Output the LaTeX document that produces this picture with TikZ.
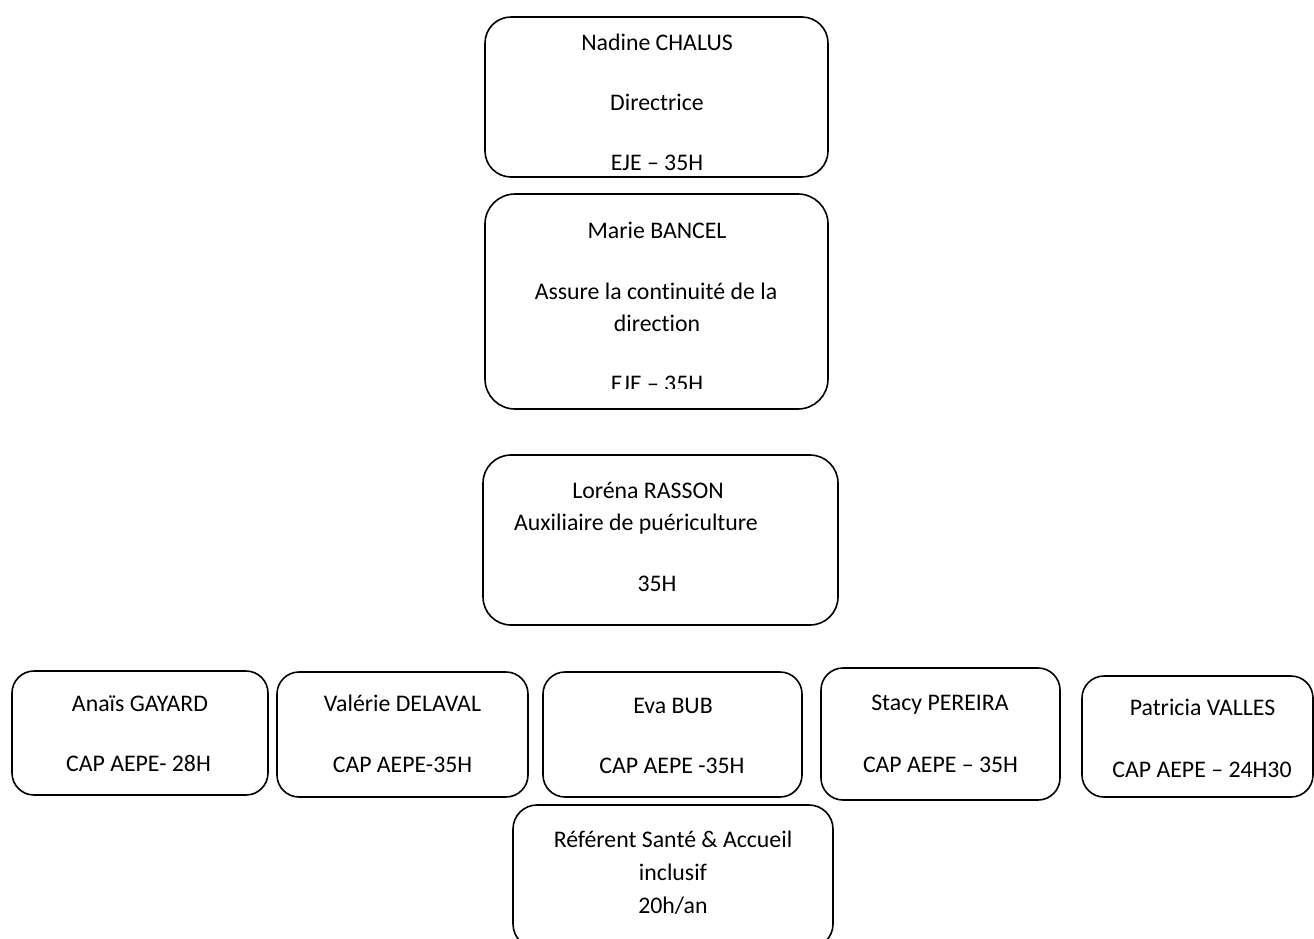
\documentclass[tikz,border=0pt]{standalone}
\usepackage{fontspec}
\setmainfont{Carlito}[Ligatures={NoCommon}]
\begin{document}
\begin{tikzpicture}[x=1pt,y=-1pt,
  box/.style={draw=black, line width=1.6pt, rounded corners=#1, inner sep=0pt, outer sep=0pt},
  box/.default=22pt,
  lbl/.style={anchor=base, inner sep=0pt, outer sep=0pt, font=\fontsize{23.8}{30}\selectfont}]
\useasboundingbox (0,0) rectangle (1314,938);
% boxes
\node[box=26pt, minimum width=343pt, minimum height=160pt] (nadine) at (656.5,97) {};
\node[box=30pt, minimum width=343pt, minimum height=215pt] (marie) at (656.5,301.5) {};
\node[box=28pt, minimum width=355pt, minimum height=170pt] (lorena) at (660.5,540) {};
\node[box, minimum width=256pt, minimum height=124pt] (anais) at (140,733) {};
\node[box, minimum width=251pt, minimum height=125pt] (valerie) at (402.5,734.5) {};
\node[box, minimum width=259pt, minimum height=125pt] (eva) at (672.5,734.5) {};
\node[box, minimum width=239pt, minimum height=132pt] (stacy) at (940.5,734) {};
\node[box, minimum width=231pt, minimum height=121pt] (patricia) at (1197.5,736.5) {};
\node[box=24pt, minimum width=320pt, minimum height=143pt] (referent) at (673,876.5) {};
% texts
\node[lbl] (t1) at (657,50) {Nadine CHALUS};
\node[lbl] (t2) at (657,110) {Directrice};
\node[lbl] (t3) at (657,170) {EJE – 35H};
\node[lbl] (t4) at (657,238) {Marie BANCEL};
\node[lbl] (t5) at (656,299) {Assure la continuité de la};
\node[lbl] (t6) at (657,331) {direction};
\begin{scope}
\clip (490,200) rectangle (820,388);
\node[lbl] (t7) at (657,391) {EJE – 35H};
\end{scope}
\node[lbl] (t8) at (648,498) {Loréna RASSON};
\node[lbl] (t9) at (636,530) {Auxiliaire de puériculture};
\node[lbl] (t10) at (657,591) {35H};
\node[lbl] (t11) at (140,711) {Anaïs GAYARD};
\node[lbl] (t12) at (138.5,771) {CAP AEPE- 28H};
\node[lbl] (t13) at (402.5,711) {Valérie DELAVAL};
\node[lbl] (t14) at (402.5,772) {CAP AEPE-35H};
\node[lbl] (t15) at (673,713) {Eva BUB};
\node[lbl] (t16) at (672,773) {CAP AEPE -35H};
\node[lbl] (t17) at (940,710) {Stacy PEREIRA};
\node[lbl] (t18) at (940.5,772) {CAP AEPE – 35H};
\node[lbl] (t19) at (1202.5,715) {Patricia VALLES};
\node[lbl] (t20) at (1202,777) {CAP AEPE – 24H30};
\node[lbl] (t21) at (673,847) {Référent Santé \& Accueil};
\node[lbl] (t22) at (673,880) {inclusif};
\node[lbl] (t23) at (673,913) {20h/an};
\end{tikzpicture}
\end{document}
